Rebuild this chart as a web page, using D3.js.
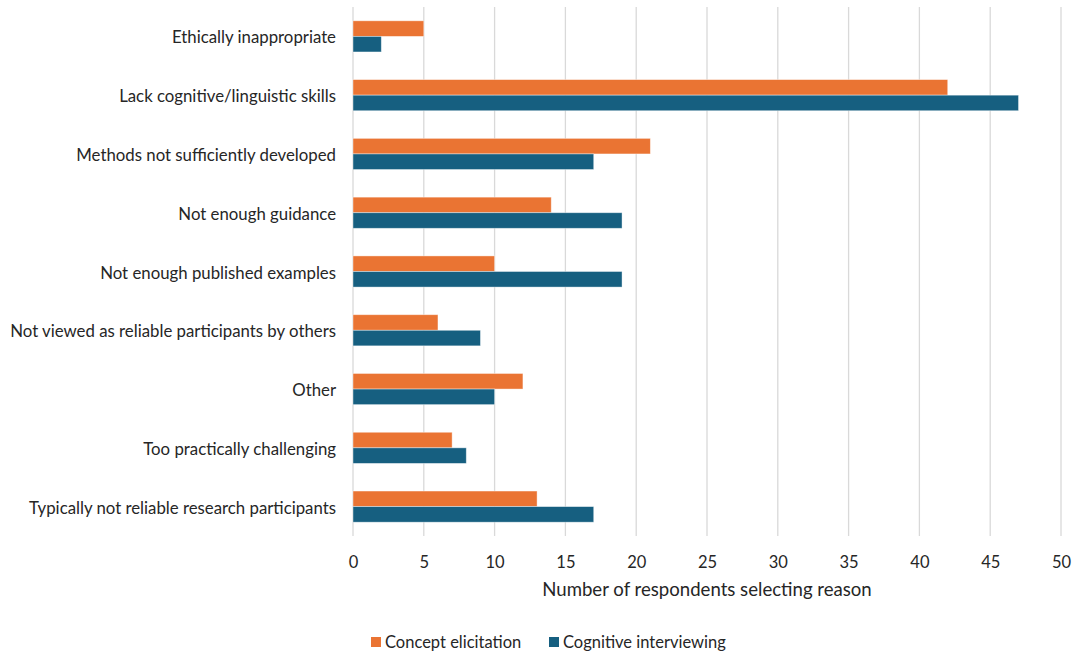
<!DOCTYPE html>
<html>
<head>
<meta charset="utf-8">
<script src="https://cdn.jsdelivr.net/npm/d3@7"></script>
<style>
  html, body { margin: 0; padding: 0; background: #fff; }
  svg { display: block; font-family: Lato, "Open Sans", sans-serif; }
</style>
</head>
<body>
<svg id="chart" width="1076" height="653"></svg>
<script>
// Reasons for not involving the group, counted per method
const categories = [
  "Ethically inappropriate",
  "Lack cognitive/linguistic skills",
  "Methods not sufficiently developed",
  "Not enough guidance",
  "Not enough published examples",
  "Not viewed as reliable participants by others",
  "Other",
  "Too practically challenging",
  "Typically not reliable research participants"
];
const seriesNames = ["Concept elicitation", "Cognitive interviewing"];
const conceptElicitation = [5, 42, 21, 14, 10, 6, 12, 7, 13];
const cognitiveInterviewing = [2, 47, 17, 19, 19, 9, 10, 8, 17];
const xTicks = [0, 5, 10, 15, 20, 25, 30, 35, 40, 45, 50];
const colors = ["#EA7433", "#165F80"];

const svg = d3.select("#chart");
const margin = { left: 353, right: 15, top: 7, bottom: 117 };
const W = 1076, H = 653;
const plotH = H - margin.top - margin.bottom;

const g = svg.append("g").attr("transform", `translate(${margin.left},${margin.top})`);

const x = d3.scaleLinear().domain([0, 50]).range([0, 708]);
const y = d3.scaleBand().domain(categories).range([0, plotH]).paddingInner(0.47).paddingOuter(0.235);
const ySub = d3.scaleBand().domain(seriesNames).range([0, y.bandwidth()]);

// vertical gridlines
g.append("g").selectAll("line").data(xTicks.slice(1)).join("line")
  .attr("x1", d => x(d)).attr("x2", d => x(d))
  .attr("y1", 0).attr("y2", plotH)
  .attr("stroke", "#D9D9D9").attr("stroke-width", 1.3);

// category axis line
g.append("line").attr("x1", 0).attr("x2", 0).attr("y1", 0).attr("y2", plotH)
  .attr("stroke", "#D9D9D9").attr("stroke-width", 1.3);

const rows = categories.map((c, i) => ({ c, vals: [conceptElicitation[i], cognitiveInterviewing[i]] }));

const groups = g.append("g").selectAll("g").data(rows).join("g")
  .attr("transform", d => `translate(0,${y(d.c)})`);

groups.selectAll("rect").data(d => d.vals.map((v, k) => ({ v, k }))).join("rect")
  .attr("x", x(0))
  .attr("y", d => ySub(seriesNames[d.k]))
  .attr("width", d => x(d.v) - x(0))
  .attr("height", ySub.bandwidth())
  .attr("fill", d => colors[d.k])
  .attr("stroke", "#ffffff").attr("stroke-opacity", 0.5).attr("stroke-width", 0.8);

// category labels
const yAxis = d3.axisLeft(y).tickSize(0).tickPadding(17);
g.append("g").call(yAxis)
  .call(s => s.select(".domain").remove())
  .selectAll("text")
  .attr("dy", "0.42em")
  .attr("font-size", 16.8).attr("fill", "#262626")
  .style("font-family", "Lato, 'Open Sans', sans-serif");

// value axis
const xAxis = d3.axisBottom(x).tickValues(xTicks).tickSize(0).tickPadding(20);
g.append("g").attr("transform", `translate(0,${plotH})`).call(xAxis)
  .call(s => s.select(".domain").remove())
  .selectAll("text")
  .attr("font-size", 16.5).attr("fill", "#262626")
  .style("font-family", "Lato, 'Open Sans', sans-serif");

svg.append("text")
  .attr("x", 707).attr("y", 596)
  .attr("text-anchor", "middle")
  .attr("font-size", 18.6).attr("fill", "#262626")
  .text("Number of respondents selecting reason");

// legend
const legend = svg.append("g").attr("transform", "translate(371,642)");
const legendX = [0, 178];
seriesNames.forEach((n, k) => {
  const lg = legend.append("g").attr("transform", `translate(${legendX[k]},0)`);
  lg.append("rect").attr("x", 0).attr("y", -5).attr("width", 10).attr("height", 10).attr("fill", colors[k]);
  lg.append("text").attr("x", 14).attr("y", 0).attr("dy", "0.35em")
    .attr("font-size", 16.5).attr("fill", "#262626").text(n);
});
</script>
</body>
</html>
